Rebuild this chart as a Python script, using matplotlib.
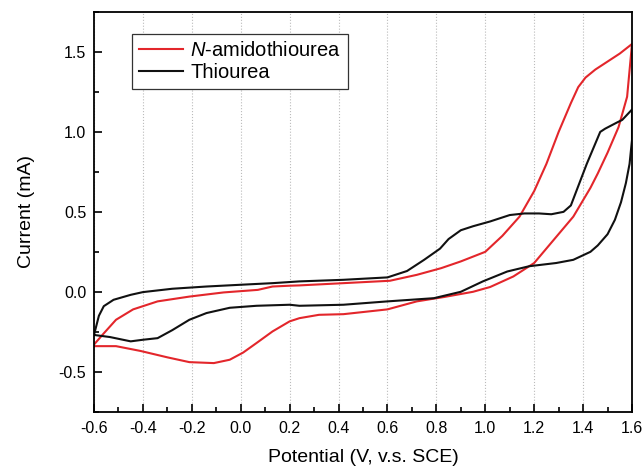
import numpy as np
import matplotlib
matplotlib.use('Agg')
import matplotlib.pyplot as plt
from matplotlib.ticker import MultipleLocator

plt.rcParams['font.family'] = ['Liberation Sans', 'DejaVu Sans']
plt.rcParams['mathtext.fontset'] = 'custom'
plt.rcParams['mathtext.it'] = 'Liberation Sans:italic'
plt.rcParams['mathtext.rm'] = 'Liberation Sans'

# N-amidothiourea: forward scan then reverse scan
amido_fwd_v = [-0.6, -0.56, -0.51, -0.44, -0.34, -0.21, -0.07, 0.07, 0.13, 0.2, 0.24, 0.42, 0.61,
               0.72, 0.82, 0.9, 1.0, 1.07, 1.14, 1.2, 1.25, 1.3, 1.35, 1.38, 1.41, 1.45, 1.5, 1.55, 1.6]
amido_fwd_i = [-0.33, -0.26, -0.175, -0.11, -0.06, -0.03, -0.004, 0.012, 0.033, 0.038, 0.04, 0.054, 0.069,
               0.106, 0.148, 0.19, 0.25, 0.35, 0.47, 0.63, 0.80, 1.0, 1.18, 1.28, 1.34, 1.39, 1.44, 1.49, 1.55]
amido_rev_v = [1.6, 1.58, 1.545, 1.5, 1.46, 1.43, 1.36, 1.28, 1.2, 1.115, 1.02, 0.95, 0.83, 0.72, 0.6,
               0.42, 0.32, 0.24, 0.2, 0.13, 0.065, 0.01, -0.045, -0.11, -0.21, -0.3, -0.41, -0.51, -0.6]
amido_rev_i = [1.55, 1.22, 1.03, 0.87, 0.74, 0.65, 0.47, 0.325, 0.18, 0.096, 0.03, 0.0, -0.033, -0.06, -0.11,
               -0.14, -0.144, -0.165, -0.185, -0.248, -0.32, -0.38, -0.425, -0.446, -0.44, -0.41, -0.37, -0.34, -0.34]

# Thiourea: forward scan then reverse scan
thio_fwd_v = [-0.6, -0.595, -0.58, -0.56, -0.52, -0.45, -0.4, -0.28, -0.14, 0.0, 0.13, 0.24, 0.42, 0.6,
              0.68, 0.75, 0.815, 0.85, 0.9, 0.95, 1.02, 1.1, 1.16, 1.22, 1.27, 1.32, 1.35, 1.375, 1.415,
              1.47, 1.49, 1.54, 1.56, 1.6]
thio_fwd_i = [-0.27, -0.24, -0.15, -0.09, -0.05, -0.019, -0.002, 0.019, 0.033, 0.044, 0.054, 0.065, 0.075, 0.09,
              0.13, 0.2, 0.27, 0.33, 0.385, 0.41, 0.44, 0.48, 0.49, 0.49, 0.485, 0.50, 0.54, 0.64, 0.80,
              1.0, 1.02, 1.06, 1.075, 1.14]
thio_rev_v = [1.6, 1.6, 1.59, 1.575, 1.555, 1.53, 1.5, 1.46, 1.43, 1.36, 1.29, 1.18, 1.09, 0.99, 0.9, 0.79, 0.6,
              0.42, 0.24, 0.2, 0.065, -0.045, -0.14, -0.21, -0.28, -0.34, -0.4, -0.45, -0.535, -0.6]
thio_rev_i = [1.14, 0.95, 0.80, 0.68, 0.56, 0.45, 0.36, 0.29, 0.25, 0.20, 0.18, 0.16, 0.127, 0.065, 0.0, -0.04, -0.06,
              -0.081, -0.0875, -0.081, -0.0875, -0.10, -0.133, -0.175, -0.24, -0.29, -0.30, -0.31, -0.283, -0.27]

labels = ['$\\it{N}$-amidothiourea', 'Thiourea']
xticks = [-0.6, -0.4, -0.2, 0.0, 0.2, 0.4, 0.6, 0.8, 1.0, 1.2, 1.4, 1.6]
yticks = [-0.5, 0.0, 0.5, 1.0, 1.5]

fig = plt.figure(figsize=(6.44, 4.69), dpi=100)
ax = fig.add_axes([94/644, 1 - 411.7/469, 538/644, 399.7/469])

ax.plot(amido_fwd_v + amido_rev_v, amido_fwd_i + amido_rev_i, color='#e3262b', lw=1.5, label=labels[0])
ax.plot(thio_fwd_v + thio_rev_v, thio_fwd_i + thio_rev_i, color='#111111', lw=1.5, label=labels[1])

ax.set_xlim(-0.6, 1.6)
ax.set_ylim(-0.75, 1.75)
ax.set_xticks(xticks)
ax.set_xticklabels(['%.1f' % v for v in xticks])
ax.set_yticks(yticks)
ax.set_yticklabels(['%.1f' % v for v in yticks])
ax.xaxis.set_minor_locator(MultipleLocator(0.1))
ax.yaxis.set_minor_locator(MultipleLocator(0.25))
ax.tick_params(which='both', direction='in', top=False, right=False, labelsize=11.5, width=1.2)
ax.tick_params(which='major', length=6)
ax.tick_params(which='minor', length=3.5)
ax.tick_params(axis='y', pad=5.5)
ax.tick_params(axis='x', pad=7)
ax.grid(axis='x', which='major', color='#bbbbbb', linestyle=':', linewidth=0.8)
for s in ax.spines.values():
    s.set_linewidth(1.3)

ax.set_xlabel('Potential (V, v.s. SCE)', fontsize=14, labelpad=9)
ax.set_ylabel('Current (mA)', fontsize=14, labelpad=17)

leg = ax.legend(loc='upper left', bbox_to_anchor=(0.0706, 0.945), borderaxespad=0, fontsize=14.5,
                handlelength=2.2, handletextpad=0.35, fancybox=False, framealpha=1,
                borderpad=0.35, labelspacing=0.15)
leg.get_frame().set_edgecolor('#333333')
leg.get_frame().set_linewidth(0.9)

plt.savefig('out.png', dpi=100)
